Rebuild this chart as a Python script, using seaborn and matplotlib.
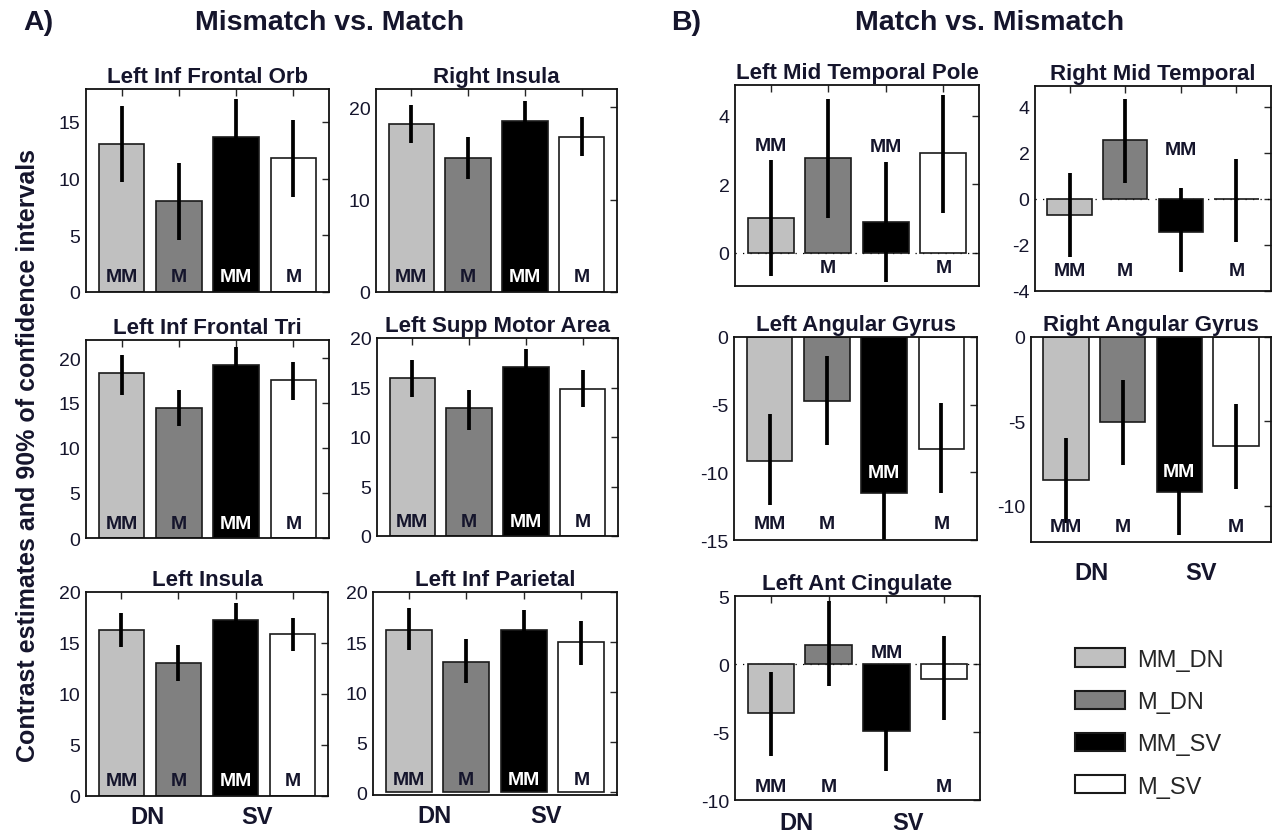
import matplotlib
matplotlib.use("Agg")
import matplotlib.pyplot as plt
import matplotlib.transforms as mtrans
from matplotlib.patches import Patch
import seaborn as sns
import pandas as pd

# ---------------- data ----------------
conditions = ["MM_DN", "M_DN", "MM_SV", "M_SV"]
bar_text = ["MM", "M", "MM", "M"]
bar_colors = ["#c0c0c0", "#808080", "#000000", "#ffffff"]
group_labels = ["DN", "SV"]

# Panel A: Mismatch vs. Match
orb_mean = [13.05, 8.0, 13.65, 11.85]
orb_lo = [9.7, 4.55, 10.3, 8.4]
orb_hi = [16.4, 11.35, 17.0, 15.2]

rins_mean = [18.26, 14.57, 18.55, 16.75]
rins_lo = [16.1, 12.3, 16.4, 14.7]
rins_hi = [20.25, 16.8, 20.7, 19.0]

tri_mean = [18.3, 14.5, 19.2, 17.6]
tri_lo = [15.9, 12.4, 17.2, 15.3]
tri_hi = [20.3, 16.5, 21.2, 19.6]

sma_mean = [16.0, 12.9, 17.1, 14.8]
sma_lo = [14.0, 10.7, 15.3, 13.0]
sma_hi = [17.8, 14.7, 18.9, 16.8]

lins_mean = [16.3, 13.0, 17.3, 15.9]
lins_lo = [14.6, 11.3, 15.7, 14.2]
lins_hi = [17.9, 14.8, 18.9, 17.5]

lip_mean = [16.23, 13.0, 16.23, 15.0]
lip_lo = [14.17, 10.93, 14.2, 12.73]
lip_hi = [18.43, 15.27, 18.23, 17.07]

# Panel B: Match vs. Mismatch
lmtp_mean = [1.0, 2.75, 0.9, 2.9]
lmtp_lo = [-0.7, 1.0, -0.85, 1.15]
lmtp_hi = [2.7, 4.5, 2.65, 4.6]
lmtp_text_y = [3.12, -0.43, 3.1, -0.43]

rmt_mean = [-0.7, 2.56, -1.42, 0.0]
rmt_lo = [-2.54, 0.7, -3.18, -1.86]
rmt_hi = [1.11, 4.35, 0.48, 1.75]
rmt_text_y = [-3.1, -3.1, 2.16, -3.1]

lag_mean = [-9.15, -4.7, -11.5, -8.25]
lag_lo = [-12.4, -8.0, -15.0, -11.55]
lag_hi = [-5.7, -1.4, -8.0, -4.9]
lag_text_y = [-13.8, -13.8, -10.0, -13.8]

rag_mean = [-8.46, -5.06, -9.2, -6.48]
rag_lo = [-11.0, -7.56, -11.75, -8.99]
rag_hi = [-6.0, -2.54, -6.65, -3.98]
rag_text_y = [-11.25, -11.25, -7.97, -11.25]

lac_mean = [-3.63, 1.41, -4.95, -1.1]
lac_lo = [-6.74, -1.6, -7.9, -4.1]
lac_hi = [-0.6, 4.6, -2.0, 2.05]
lac_text_y = [-9.0, -9.0, 0.86, -9.0]

# ---------------- style ----------------
sns.set_style("white")
plt.rcParams["font.family"] = ["Liberation Sans", "DejaVu Sans"]
TXT = "#15152c"

W, H = 1272, 837
fig = plt.figure(figsize=(W / 100, H / 100), dpi=100)


def add_axes_px(x0, y0, x1, y1):
    return fig.add_axes([x0 / W, 1 - y1 / H, (x1 - x0) / W, (y1 - y0) / H])


def draw_panel(box, title, mean, lo, hi, ylim, yticks, text_y=None,
               group_row=False, group_off=-0.1, baseline=False):
    ax = add_axes_px(*box)
    df = pd.DataFrame({"cond": conditions, "value": mean})
    sns.barplot(data=df, x="cond", y="value", hue="cond", order=conditions,
                hue_order=conditions, palette=dict(zip(conditions, bar_colors)),
                dodge=False, legend=False, errorbar=None, width=0.8,
                edgecolor="#1a1a1a", linewidth=1.2, ax=ax, zorder=2)
    xs = [p.get_x() + p.get_width() / 2 for p in ax.patches][:4]
    ax.vlines(xs, lo, hi, color="black", lw=2.7, zorder=3)
    if baseline:
        ax.axhline(0, color="black", lw=0.9, ls=(0, (1, 5)), zorder=1)
    ax.set_xlim(-0.62, 3.62)
    ax.set_ylim(*ylim)
    ax.set_yticks(yticks)
    ax.set_yticklabels([f"{t:g}" for t in yticks], fontsize=14, color=TXT)
    ax.set_xticks(range(4))
    ax.set_xticklabels([])
    ax.set_xlabel("")
    ax.set_ylabel("")
    ax.tick_params(direction="in", top=True, right=True, length=5, width=1,
                   pad=4)
    for s in ax.spines.values():
        s.set_linewidth(1.3)
        s.set_color("#111111")
        s.set_zorder(5)
    ax.set_title(title, fontsize=16, fontweight="bold", pad=5, color=TXT)
    for i, x in enumerate(xs):
        col = "white" if bar_colors[i] == "#000000" else TXT
        if text_y is None:
            tr = mtrans.blended_transform_factory(ax.transData, ax.transAxes)
            ax.text(x, 0.075, bar_text[i], transform=tr, ha="center",
                    va="center", fontsize=14, fontweight="bold", color=col,
                    zorder=6)
        else:
            ymid = text_y[i]
            inside_black = bar_colors[i] == "#000000" and (
                min(0, mean[i]) < ymid < max(0, mean[i]))
            col = "white" if inside_black else TXT
            ax.text(x, ymid, bar_text[i], ha="center", va="center",
                    fontsize=14, fontweight="bold", color=col, zorder=6)
    if group_row:
        tr = mtrans.blended_transform_factory(ax.transData, ax.transAxes)
        for gx, g in zip([0.45, 2.38], group_labels):
            ax.text(gx, group_off, g, transform=tr, ha="center", va="center",
                    fontsize=17, fontweight="bold", color=TXT)
    return ax


# Panel A
draw_panel((86, 90, 329, 293), "Left Inf Frontal Orb", orb_mean, orb_lo, orb_hi,
           (0, 17.9), [0, 5, 10, 15])
draw_panel((376, 90, 617, 293), "Right Insula", rins_mean, rins_lo, rins_hi,
           (0, 22), [0, 10, 20])
draw_panel((86, 341, 329, 539), "Left Inf Frontal Tri", tri_mean, tri_lo, tri_hi,
           (0, 22), [0, 5, 10, 15, 20])
draw_panel((377, 339, 618, 537), "Left Supp Motor Area", sma_mean, sma_lo, sma_hi,
           (0, 20), [0, 5, 10, 15, 20])
draw_panel((86, 593, 328, 797), "Left Insula", lins_mean, lins_lo, lins_hi,
           (0, 20), [0, 5, 10, 15, 20], group_row=True, group_off=-0.1)
draw_panel((373, 593, 617, 796), "Left Inf Parietal", lip_mean, lip_lo, lip_hi,
           (-0.27, 20), [0, 5, 10, 15, 20], group_row=True, group_off=-0.1)

# Panel B
draw_panel((735, 86, 979, 287), "Left Mid Temporal Pole", lmtp_mean, lmtp_lo,
           lmtp_hi, (-0.98, 4.9), [0, 2, 4], text_y=lmtp_text_y, baseline=True)
draw_panel((1035, 87, 1271, 292), "Right Mid Temporal", rmt_mean, rmt_lo, rmt_hi,
           (-4, 4.9), [-4, -2, 0, 2, 4], text_y=rmt_text_y, baseline=True)
draw_panel((734, 338, 977, 541), "Left Angular Gyrus", lag_mean, lag_lo, lag_hi,
           (-15, 0), [-15, -10, -5, 0], text_y=lag_text_y)
draw_panel((1031, 338, 1271, 543), "Right Angular Gyrus", rag_mean, rag_lo,
           rag_hi, (-12.15, 0), [-10, -5, 0], text_y=rag_text_y,
           group_row=True, group_off=-0.15)
draw_panel((735, 597, 980, 801), "Left Ant Cingulate", lac_mean, lac_lo, lac_hi,
           (-10, 5), [-10, -5, 0, 5], text_y=lac_text_y, group_row=True,
           group_off=-0.11, baseline=True)

# Headers
fig.text(38 / W, 1 - 23 / H, "A)", fontsize=20.5, fontweight="bold", ha="center",
         va="center", color=TXT)
fig.text(330 / W, 1 - 23 / H, "Mismatch vs. Match", fontsize=20.5,
         fontweight="bold", ha="center", va="center", color=TXT)
fig.text(686 / W, 1 - 23 / H, "B)", fontsize=20.5, fontweight="bold", ha="center",
         va="center", color=TXT)
fig.text(990 / W, 1 - 23 / H, "Match vs. Mismatch", fontsize=20.5,
         fontweight="bold", ha="center", va="center", color=TXT)
fig.text(28 / W, 1 - 456 / H, "Contrast estimates and 90% of confidence intervals",
         rotation=90, fontsize=18, fontweight="bold", ha="center", va="center",
         color=TXT)

# Legend
handles = [Patch(facecolor=c, edgecolor="#1a1a1a", linewidth=1.5) for c in bar_colors]
fig.legend(handles, conditions, loc="upper left",
           bbox_to_anchor=(1066 / W, 1 - 640 / H), frameon=False, fontsize=17,
           handlelength=2.1, handleheight=0.8, labelspacing=0.85,
           handletextpad=0.5, borderaxespad=0)

fig.savefig("out.png", dpi=100)
